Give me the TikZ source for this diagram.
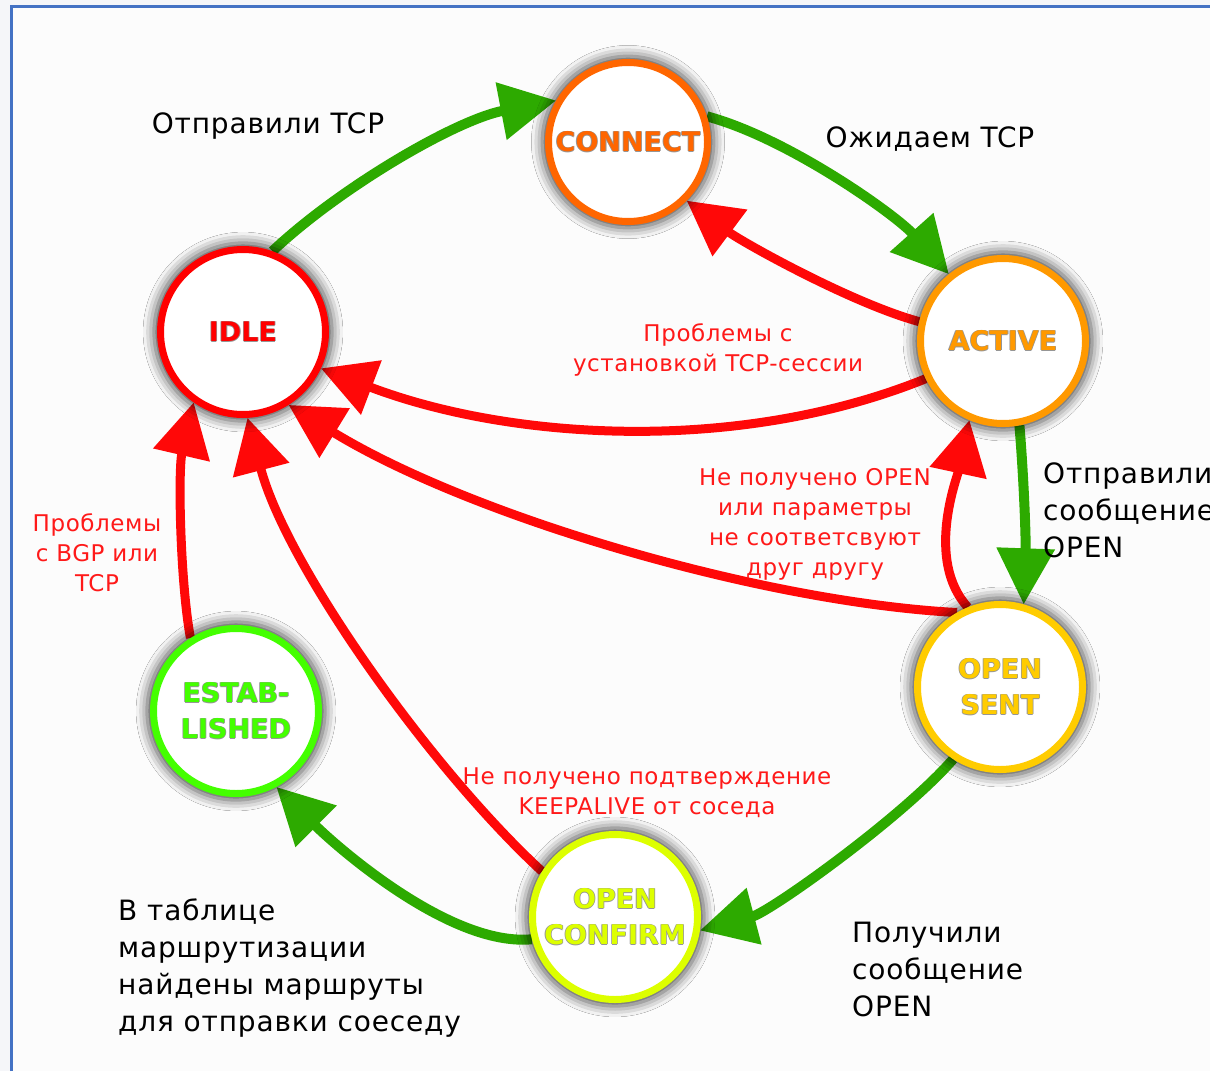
\documentclass[tikz,border=0pt]{standalone}
\usepackage{fontspec}
\setmainfont{DejaVu Sans}
\newfontfamily\blkfont[LetterSpace=3]{DejaVu Sans}
\newfontfamily\redfont[LetterSpace=2.5]{DejaVu Sans}
\usetikzlibrary{arrows.meta,shadows.blur}
\definecolor{gline}{RGB}{45,170,0}
\definecolor{rline}{RGB}{255,8,8}
\definecolor{cIdle}{RGB}{255,0,0}
\definecolor{cConn}{RGB}{255,102,0}
\definecolor{cAct}{RGB}{255,153,0}
\definecolor{cSent}{RGB}{255,204,0}
\definecolor{cConf}{RGB}{221,255,0}
\definecolor{cEst}{RGB}{68,255,0}
\definecolor{halo}{RGB}{150,150,150}
\definecolor{framec}{RGB}{68,114,196}
\definecolor{outerbg}{RGB}{245,246,249}
\definecolor{innerbg}{RGB}{252,252,252}
\definecolor{lblred}{RGB}{255,25,25}
\newcommand{\hl}[2]{\leavevmode
 \rlap{\kern0.8pt\textcolor{halo}{#2}}%
 \rlap{\kern-0.8pt\textcolor{halo}{#2}}%
 \rlap{\raisebox{0.8pt}{\textcolor{halo}{#2}}}%
 \rlap{\raisebox{-0.8pt}{\textcolor{halo}{#2}}}%
 \textcolor{#1}{#2}}
\pgfdeclarelayer{bg}
\pgfsetlayers{bg,main}
\begin{document}
\begin{tikzpicture}[x=1pt,y=1pt,
 state/.style={circle, draw=#1, line width=7pt, fill=white, minimum size=165pt,
   inner sep=0pt, align=center, font=\fontsize{27}{36}\selectfont\bfseries,
   blur shadow={shadow xshift=0pt,shadow yshift=0pt,shadow scale=1.08,
   shadow blur radius=10pt,shadow opacity=70}},
 garr/.style={draw=gline, line width=10pt, -{Triangle[length=56pt,width=56pt]}},
 rarr/.style={draw=rline, line width=9pt, -{Triangle[length=54pt,width=56pt]}},
 blk/.style={font=\blkfont\fontsize{28}{37}\selectfont, text=black, inner sep=0pt, align=left},
 rlbl/.style={font=\redfont\fontsize{23}{30}\selectfont, text=lblred, inner sep=0pt, align=center}]
\useasboundingbox (0,0) rectangle (1210,-1071);
% states
\node[state=cIdle] (idle) at (243,-332) {\hl{cIdle}{IDLE}};
\node[state=cConn, minimum size=159pt] (connect) at (628,-142) {\hl{cConn}{CONNECT}};
\node[state=cAct] (active) at (1003,-341) {\hl{cAct}{ACTIVE}};
\node[state=cSent] (sent) at (1000,-687) {\hl{cSent}{OPEN}\\\hl{cSent}{SENT}};
\node[state=cConf] (confirm) at (615,-917) {\hl{cConf}{OPEN}\\\hl{cConf}{CONFIRM}};
\node[state=cEst] (est) at (236,-711) {\hl{cEst}{ESTAB-}\\\hl{cEst}{LISHED}};
\begin{pgfonlayer}{bg}
\fill[outerbg] (0,0) rectangle (1210,-1071);
\fill[innerbg] (12,-7) rectangle (1210,-1071);
\draw[framec, line width=2.5pt] (11.5,-1071) -- (11.5,-6.5) -- (1210,-6.5);
% green transitions
\draw[garr] (idle.70) .. controls (338,-189) and (455,-120) .. (connect.150);
\draw[garr] (connect.18) .. controls (788,-138) and (896,-215) .. (active.129);
\draw[garr] (active.-79) .. controls (1024,-480) and (1026,-540) .. (sent.74);
\draw[garr] (sent.237) .. controls (903,-817) and (770,-912) .. (confirm.-9);
\draw[garr] (confirm.195) .. controls (450,-947) and (336,-846) .. (est.-62);
% red transitions
\draw[rarr] (active.167) .. controls (851,-303) and (742,-242) .. (connect.-45);
\draw[rarr] (active.206) .. controls (737,-455) and (509,-440) .. (idle.-25);
\draw[rarr] (sent.120) .. controls (760,-602) and (470,-516) .. (idle.-58);
\draw[rarr] (sent.112) .. controls (925,-560) and (957,-478) .. (active.247);
\draw[rarr] (confirm.148) .. controls (430,-768) and (286,-565) .. (idle.-87);
\draw[rarr] (est.122) .. controls (180,-580) and (178,-470) .. (idle.235);
\end{pgfonlayer}
% labels
\node[blk] (t1) at (268,-126) {Отправили TCP};
\node[blk] (t2) at (930,-139) {Ожидаем TCP};
\node[blk,anchor=west] (t3) at (1043,-510) {Отправили\\сообщение\\OPEN};
\node[blk,anchor=west] (t4) at (852,-969) {Получили\\сообщение\\OPEN};
\node[blk,anchor=west] (t5) at (118,-968) {В таблице\\маршрутизации\\найдены маршруты\\для отправки соеседу};
\node[rlbl] (r1) at (718,-350) {Проблемы с\\установкой TCP-сессии};
\node[rlbl] (r2) at (815,-524) {Не получено OPEN\\или параметры\\не соответсвуют\\друг другу};
\node[rlbl] (r3) at (97,-553) {Проблемы\\с BGP или\\TCP};
\node[rlbl] (r4) at (647,-793) {Не получено подтверждение\\KEEPALIVE от соседа};
\end{tikzpicture}
\end{document}
